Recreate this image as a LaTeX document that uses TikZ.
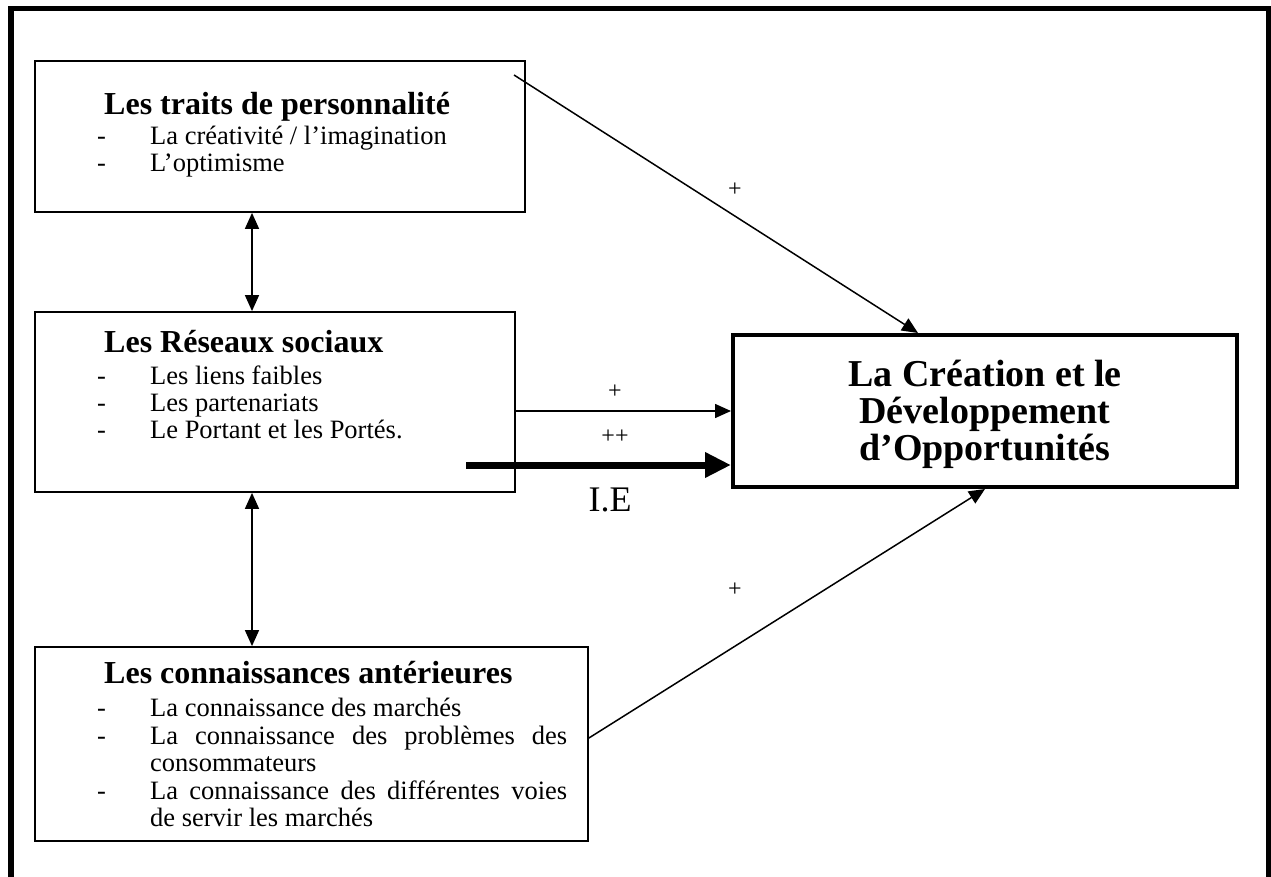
\documentclass[tikz,border=0pt]{standalone}
\usepackage{fontspec}
\setmainfont{Liberation Serif}
\usetikzlibrary{arrows.meta}

\tikzset{
  boite/.style={draw, line width=1.8pt, inner sep=0pt},
  ligne/.style={anchor=base west, inner sep=0pt, font=\fontsize{26.5}{27}\selectfont},
  titre/.style={anchor=base west, inner sep=0pt, font=\fontsize{32}{34}\selectfont\bfseries},
  grand/.style={anchor=base, inner sep=0pt, font=\fontsize{38}{37}\selectfont\bfseries},
  signe/.style={inner sep=0pt, font=\fontsize{24}{26}\selectfont},
  fleche/.style={-{Triangle[length=16pt,width=14pt]}, line width=1.5pt},
  dfleche/.style={{Triangle[length=16pt,width=14pt]}-{Triangle[length=16pt,width=14pt]}, line width=1.5pt},
}
\newcommand{\tiret}{\makebox[53pt][l]{-}}

\begin{document}
\begin{tikzpicture}[x=1pt, y=-1pt]
\useasboundingbox (0,0) rectangle (1271,877);

% cadre
\draw[line width=5.5pt] (11,885) -- (11,8.5) -- (1268.5,8.5) -- (1268.5,885);

% boites
\node[boite, minimum width=490pt, minimum height=151pt] (traits) at (280,136.5) {};
\node[boite, minimum width=480pt, minimum height=180pt] (reseaux) at (275,402) {};
\node[boite, minimum width=553pt, minimum height=194pt] (connais) at (311.5,744) {};
\node[boite, line width=4pt, minimum width=504pt, minimum height=152pt] (creation) at (985,411) {};

% textes
\node[titre] (t1) at (104,115) {Les traits de personnalité};
\node[ligne] (t1a) at (97,145) {\tiret La créativité / l’imagination};
\node[ligne] (t1b) at (97,172) {\tiret L’optimisme};

\node[titre] (t2) at (104,352) {Les Réseaux sociaux};
\node[ligne] (t2a) at (97,384) {\tiret Les liens faibles};
\node[ligne] (t2b) at (97,411) {\tiret Les partenariats};
\node[ligne] (t2c) at (97,438) {\tiret Le Portant et les Portés.};

\node[titre] (t3) at (104,683) {Les connaissances antérieures};
\node[ligne] (t3a) at (97,716) {\tiret La connaissance des marchés};
\node[ligne] (t3b) at (97,744) {\makebox[470pt][s]{\tiret La connaissance des problèmes des}};
\node[ligne] (t3c) at (150,771) {consommateurs};
\node[ligne] (t3d) at (97,799) {\makebox[470pt][s]{\tiret La connaissance des différentes voies}};
\node[ligne] (t3e) at (150,826) {de servir les marchés};

\node[grand] (t4a) at (985,386) {La Création et le};
\node[grand] (t4b) at (985,423) {Développement};
\node[grand] (t4c) at (985,460) {d’Opportunités};

% liens
\coordinate (vx) at (252,0);
\coordinate (dep1) at (514,75);
\coordinate (arr1) at (918,0);
\coordinate (ya) at (0,411);
\coordinate (ie) at (466,465);
\coordinate (yb) at (0,738);

\draw[fleche] (dep1) -- (creation.north -| arr1);
\draw[dfleche] (traits.south -| vx) -- (reseaux.north -| vx);
\draw[dfleche] (reseaux.south -| vx) -- (connais.north -| vx);
\draw[fleche] (reseaux.east |- ya) -- (creation.west |- ya);
\draw[line width=7pt, -{Triangle[length=26pt,width=24pt]}] (ie) -- (creation.west |- ie);
\draw[fleche] (connais.east |- yb) -- (creation.south);

\node[signe] (p1) at (735,190) {+};
\node[signe] (p2) at (615,392) {+};
\node[signe] (p3) at (615,437) {++};
\node[signe] (p4) at (735,590) {+};
\node[inner sep=0pt, font=\fontsize{36}{38}\selectfont] (ietxt) at (610,500) {I.E};
\end{tikzpicture}
\end{document}
